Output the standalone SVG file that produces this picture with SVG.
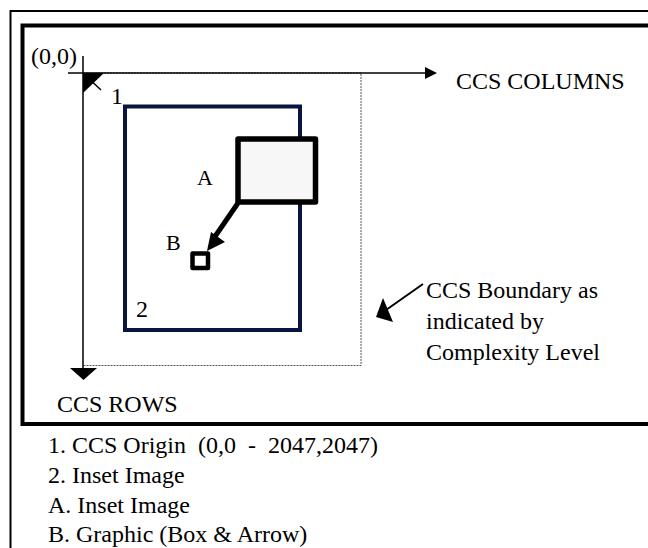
<svg xmlns="http://www.w3.org/2000/svg" width="648" height="548" viewBox="0 0 648 548">
<style>
text{font-family:"Liberation Serif","Times New Roman",serif;font-size:24px;fill:#000}
.lbl{font-size:22px}
.ax{stroke:#000;stroke-width:1.5;fill:none}
</style>
<rect width="648" height="548" fill="#fff"/>
<g id="frame">
<path d="M10.5,548 V11 H648" fill="none" stroke="#000" stroke-width="2"/>
<path d="M648,25.5 H22.5 V424 H648" fill="none" stroke="#000" stroke-width="4"/>
</g>
<g id="boundary">
<path d="M83,73 H361 V365.5 H83" fill="none" stroke="#555" stroke-width="1" stroke-dasharray="2,1"/>
</g>
<g id="connectors">
<line class="ax" x1="68" y1="73" x2="426" y2="73"/>
<polygon points="425,67 437,73 425,79" fill="#000"/>
<line class="ax" x1="83" y1="56" x2="83" y2="369"/>
<polygon points="70,368 97,368 83.5,380" fill="#000"/>
<line x1="86" y1="76" x2="101" y2="90" stroke="#000" stroke-width="1.5"/>
<polygon points="83,73 104,73 83,93" fill="#000"/>
<line x1="423" y1="284" x2="386" y2="310" stroke="#000" stroke-width="2"/>
<polygon points="376,317 393,322 383,298" fill="#000"/>
</g>
<g id="inset-image">
<rect x="125" y="106.5" width="175" height="223.5" fill="none" stroke="#0a1440" stroke-width="4"/>
<text x="111" y="104">1</text>
<text x="136" y="317">2</text>
</g>
<g id="inset-a">
<rect x="238" y="139" width="77.5" height="63" fill="#f7f7f7" stroke="#000" stroke-width="5.5" stroke-linejoin="round"/>
<text class="lbl" x="197" y="185">A</text>
</g>
<g id="graphic-b">
<line x1="238" y1="203" x2="214" y2="238" stroke="#000" stroke-width="5"/>
<polygon points="207,251 225,242 211,232" fill="#000"/>
<rect x="192.5" y="253.5" width="15.5" height="14.5" fill="#fff" stroke="#000" stroke-width="4.5" stroke-linejoin="round"/>
<text class="lbl" x="166" y="250">B</text>
</g>
<g id="labels">
<text x="31" y="64">(0,0)</text>
<text x="456" y="89">CCS COLUMNS</text>
<text x="57" y="412">CCS ROWS</text>
<text x="426" y="298">CCS Boundary as</text>
<text x="426" y="329">indicated by</text>
<text x="426" y="360">Complexity Level</text>
</g>
<g id="legend">
<text x="48" y="453" xml:space="preserve">1. CCS Origin  (0,0  -  2047,2047)</text>
<text x="48" y="483">2. Inset Image</text>
<text x="48" y="513">A. Inset Image</text>
<text x="48" y="542">B. Graphic (Box &amp; Arrow)</text>
</g>
</svg>
